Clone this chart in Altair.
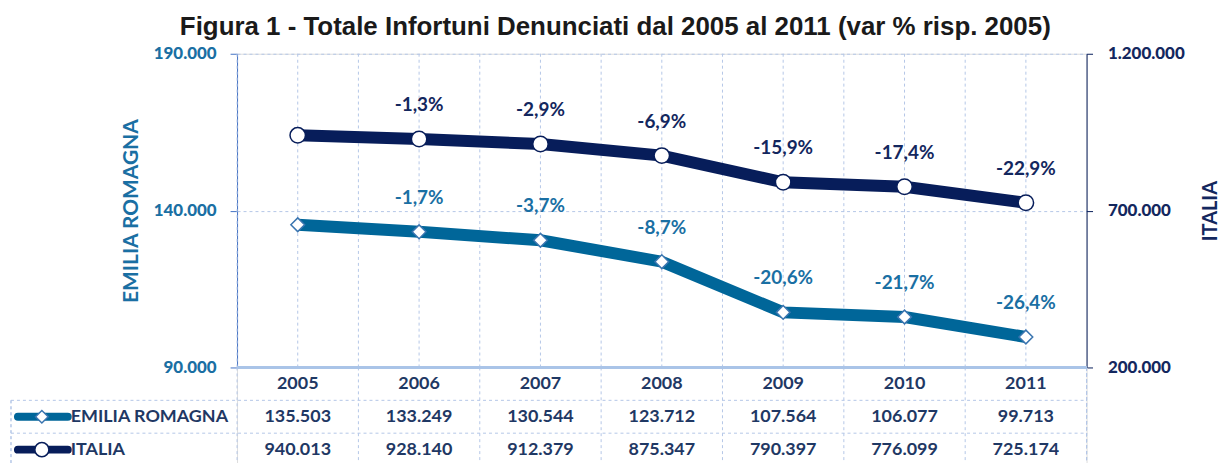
import altair as alt
import pandas as pd

years = ["2005", "2006", "2007", "2008", "2009", "2010", "2011"]
emilia = [135503, 133249, 130544, 123712, 107564, 106077, 99713]
italia = [940013, 928140, 912379, 875347, 790397, 776099, 725174]
emilia_pct = [None, -1.7, -3.7, -8.7, -20.6, -21.7, -26.4]
italia_pct = [None, -1.3, -2.9, -6.9, -15.9, -17.4, -22.9]

ER_LINE = "#006699"
ER_TEXT = "#1a6fa3"
IT_LINE = "#071d5a"
IT_TEXT = "#13275e"
TAB_TEXT = "#1f3864"
GRID = "#b4c7e7"
FONT = "Lato"

W, H, TH = 853, 315, 99


def pct(v):
    return "" if v is None else f"{v:.1f}%".replace(".", ",")


def num(v):
    return f"{v:,}".replace(",", ".")


df = pd.DataFrame({
    "year": years,
    "er": emilia,
    "it": italia,
    "er_lab": [pct(v) for v in emilia_pct],
    "it_lab": [pct(v) for v in italia_pct],
})

xenc = alt.X("year:N", axis=None, scale=alt.Scale(domain=years, paddingInner=0, paddingOuter=0))
xstart = alt.X("year:N", axis=None, bandPosition=0, scale=alt.Scale(domain=years, paddingInner=0, paddingOuter=0))

base = alt.Chart(df)

grid_b = base.mark_rule(color=GRID, strokeDash=[3, 3], strokeWidth=1).encode(
    x=xstart, y=alt.value(0), y2=alt.value(H))
grid_c = base.mark_rule(color=GRID, strokeDash=[3, 3], strokeWidth=1).encode(
    x=xenc, y=alt.value(0), y2=alt.value(H))

y_er = alt.Y("er:Q", title="EMILIA ROMAGNA",
             scale=alt.Scale(domain=[90000, 190000], nice=False, zero=False),
             axis=alt.Axis(values=[90000, 140000, 190000], format=",.0f",
                           grid=True, gridDash=[3, 3], gridColor=GRID,
                           domainColor="#4472c4", tickColor="#4472c4", tickSize=7,
                           labelPadding=14, labelColor=ER_TEXT, labelFont=FONT,
                           labelFontSize=17, labelFontWeight=900,
                           titleColor=ER_TEXT, titleFont=FONT, titleFontSize=21,
                           titleFontWeight="bold", titlePadding=12))
y_it = alt.Y("it:Q", title="ITALIA",
             scale=alt.Scale(domain=[200000, 1200000], nice=False, zero=False),
             axis=alt.Axis(orient="right", values=[200000, 700000, 1200000], format=",.0f",
                           grid=False, domainColor=IT_LINE, tickColor=IT_LINE, tickSize=6,
                           labelPadding=15, labelColor=IT_TEXT, labelFont=FONT,
                           labelFontSize=17, labelFontWeight=900,
                           titleColor=IT_TEXT, titleFont=FONT, titleFontSize=20,
                           titleFontWeight="bold", titlePadding=16, titleAngle=270,
                           titleBaseline="top"))

er_line = base.mark_line(color=ER_LINE, strokeWidth=12).encode(x=xenc, y=y_er)
er_pts = base.mark_point(shape="diamond", filled=True, fill="white", stroke="#3a75b0",
                         strokeWidth=1.5, size=190, opacity=1).encode(x=xenc, y=y_er)
er_txt = base.mark_text(dy=-34, font=FONT, fontSize=19, fontWeight="bold", color=ER_TEXT).encode(
    x=xenc, y=y_er, text="er_lab:N")

it_line = base.mark_line(color=IT_LINE, strokeWidth=12).encode(x=xenc, y=y_it)
it_pts = base.mark_point(shape="circle", filled=True, fill="white", stroke=IT_LINE,
                         strokeWidth=1.5, size=240, opacity=1).encode(x=xenc, y=y_it)
it_txt = base.mark_text(dy=-34, font=FONT, fontSize=19, fontWeight="bold", color=IT_TEXT).encode(
    x=xenc, y=y_it, text="it_lab:N")

top = alt.layer(
    grid_b, grid_c,
    alt.layer(er_line, er_pts, er_txt),
    alt.layer(it_line, it_pts, it_txt),
).resolve_scale(y="independent").properties(width=W, height=H)

# ---- data table ----
rows = ["yr", "ER", "IT"]
tab_records = []
for i, yv in enumerate(years):
    tab_records.append({"year": yv, "row": "yr", "txt": yv})
    tab_records.append({"year": yv, "row": "ER", "txt": num(emilia[i])})
    tab_records.append({"year": yv, "row": "IT", "txt": num(italia[i])})
tab = pd.DataFrame(tab_records)

yrow = alt.Y("row:N", axis=None, scale=alt.Scale(domain=rows, paddingInner=0, paddingOuter=0))
yrow0 = alt.Y("row:N", axis=None, bandPosition=0, scale=alt.Scale(domain=rows, paddingInner=0, paddingOuter=0))

tbase = alt.Chart(tab)
t_text = tbase.mark_text(font=FONT, fontSize=18, fontWeight="bold", color=TAB_TEXT).encode(
    x=xenc, y=yrow, text="txt:N")
t_vlines = alt.Chart(df).mark_rule(color=GRID, strokeDash=[3, 3]).encode(
    x=xstart, y=alt.value(0), y2=alt.value(TH))
t_right = alt.Chart(df).mark_rule(color=GRID, strokeDash=[3, 3]).encode(
    x=alt.value(W), y=alt.value(0), y2=alt.value(TH))
t_bottom_axis = alt.Chart(df).mark_rule(color="#a9c4e8", strokeWidth=2).encode(
    x=alt.value(0), x2=alt.value(W), y=alt.value(0))

labels = pd.DataFrame({"row": ["ER", "IT"], "name": ["EMILIA ROMAGNA", "ITALIA"]})
lbase = alt.Chart(labels)
t_hlines = lbase.mark_rule(color=GRID, strokeDash=[3, 3]).encode(
    x=alt.value(-227), x2=alt.value(W), y=yrow0)
t_hbottom = lbase.mark_rule(color=GRID, strokeDash=[3, 3]).encode(
    x=alt.value(-227), x2=alt.value(W), y=alt.value(TH - 1))
t_left = lbase.mark_rule(color=GRID, strokeDash=[3, 3]).encode(
    x=alt.value(-227), y=alt.value(TH / 3), y2=alt.value(TH))
t_names = lbase.mark_text(align="left", font=FONT, fontSize=18, fontWeight="bold", color=TAB_TEXT).encode(
    x=alt.value(-167), y=yrow, text="name:N")

leg_er = alt.Chart(labels[labels.row == "ER"])
leg_it = alt.Chart(labels[labels.row == "IT"])
sym_er_line = leg_er.mark_rule(color=ER_LINE, strokeWidth=8, strokeCap="round").encode(
    x=alt.value(-220), x2=alt.value(-170), y=yrow)
sym_er_pt = leg_er.mark_point(shape="diamond", filled=True, fill="white", stroke="#3a75b0",
                              strokeWidth=1.5, size=160, opacity=1).encode(x=alt.value(-196), y=yrow)
sym_it_line = leg_it.mark_rule(color=IT_LINE, strokeWidth=8, strokeCap="round").encode(
    x=alt.value(-220), x2=alt.value(-170), y=yrow)
sym_it_pt = leg_it.mark_point(shape="circle", filled=True, fill="white", stroke=IT_LINE,
                              strokeWidth=1.5, size=200, opacity=1).encode(x=alt.value(-196), y=yrow)

table = alt.layer(
    t_vlines, t_right, t_hlines, t_hbottom, t_left, t_bottom_axis,
    t_text, t_names, sym_er_line, sym_er_pt, sym_it_line, sym_it_pt,
).properties(width=W, height=TH)

chart = alt.vconcat(top, table, spacing=0, bounds="flush").properties(
    title=alt.TitleParams(
        "Figura 1 - Totale Infortuni Denunciati dal 2005 al 2011 (var % risp. 2005)",
        font="Liberation Sans", fontSize=26, fontWeight="bold", color="#1a1a1a",
        anchor="middle", offset=4),
    padding={"left": 2, "top": 5, "right": 0, "bottom": 0},
).configure_view(stroke=None).configure(
    locale={"number": {"decimal": ",", "thousands": ".", "grouping": [3], "currency": ["€", ""]}}
)

chart.save("out.html", embed_options={"renderer": "svg", "actions": False})
